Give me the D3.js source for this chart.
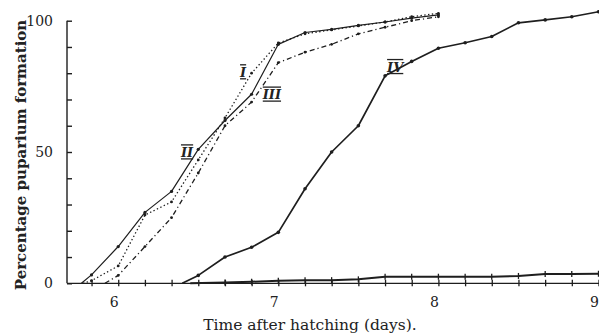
<!DOCTYPE html>
<html>
<head>
<meta charset="utf-8">
<script src="https://cdn.jsdelivr.net/npm/d3@7"></script>
<style>
  html, body { margin: 0; padding: 0; background: #fff; }
  svg { display: block; }
  text { font-family: "DejaVu Serif", "Liberation Serif", serif; fill: #222; }
</style>
</head>
<body>
<svg id="chart" width="599" height="334"></svg>
<script>
// ---- data (days after hatching, percentage puparium formation) ----
const daysI   = [5.78, 5.833, 6.0, 6.167, 6.333, 6.5, 6.667, 6.833, 7.0, 7.167, 7.333, 7.5, 7.667, 7.833, 8.0];
const pctI    = [0, 1, 6.6, 26, 31, 47, 63, 80, 91.5, 95, 96.5, 98, 99.5, 101.5, 102.8];

const daysII  = [5.77, 5.833, 6.0, 6.167, 6.333, 6.5, 6.667, 6.833, 7.0, 7.167, 7.333, 7.5, 7.667, 7.833, 8.0];
const pctII   = [0, 3.2, 14, 27, 35, 51, 62, 72, 91, 95.5, 96.7, 98.2, 99.5, 101, 102.2];

const daysIII = [5.917, 6.0, 6.167, 6.333, 6.5, 6.667, 6.833, 7.0, 7.167, 7.333, 7.5, 7.667, 7.833, 8.0];
const pctIII  = [0, 3, 14, 25, 42, 60, 69, 84, 88, 91, 95, 97.5, 100, 101.5];

const daysIV  = [6.4, 6.5, 6.667, 6.833, 7.0, 7.167, 7.333, 7.5, 7.667, 7.833, 8.0, 8.167, 8.333, 8.5, 8.667, 8.833, 9.0];
const pctIV   = [0, 3, 10, 13.7, 19.4, 36, 50, 60, 79, 84.5, 89.5, 91.6, 94, 99.2, 100.3, 101.5, 103.4];

const daysV   = [6.45, 6.667, 6.833, 7.0, 7.167, 7.333, 7.5, 7.667, 7.833, 8.0, 8.167, 8.333, 8.5, 8.667, 8.833, 9.0];
const pctV    = [0, 0.3, 0.6, 1, 1.2, 1.2, 1.5, 2.5, 2.5, 2.5, 2.5, 2.5, 2.8, 3.5, 3.5, 3.6];

const xTickLabels = [6, 7, 8, 9];
const yTickLabels = [0, 50, 100];
const curveLabels = ["I", "II", "III", "IV"];
const xTitle = "Time after hatching (days).";
const yTitle = "Percentage puparium formation";

// ---- layout ----
const svg = d3.select("#chart");
const x = d3.scaleLinear().domain([5.68, 9.0]).range([67, 598.5]);
const y = d3.scaleLinear().domain([0, 100]).range([283.3, 20.7]);
const ink = "#1e1e1e";

// y axis
const yAxis = d3.axisRight(y)
  .tickValues(d3.range(0, 101, 10))
  .tickSize(5)
  .tickFormat("");
const gy = svg.append("g").attr("transform", `translate(${x(5.68)},0)`).call(yAxis);
gy.selectAll("path,line").attr("stroke", ink).attr("stroke-width", 1.4);
gy.select("path.domain").attr("d", `M0,${y(0)}V${y(100)}`);

svg.append("g").selectAll("text").data(yTickLabels).join("text")
  .attr("x", 53).attr("y", d => y(d)).attr("dy", "0.36em")
  .attr("text-anchor", "end").attr("font-size", 14).text(d => d);

// x axis
const xTicks = d3.range(0, 20).map(i => 5 + 5 / 6 + i / 6);
const xAxis = d3.axisBottom(x).tickValues(xTicks).tickSize(3).tickFormat("");
const gx = svg.append("g").attr("transform", `translate(0,${y(0)})`).call(xAxis);
gx.selectAll("path,line").attr("stroke", ink).attr("stroke-width", 1.3);
gx.select("path.domain").attr("d", `M${x(5.68)},0H599`);
gx.selectAll(".tick line").attr("y1", -3.5).attr("y2", 3);

svg.append("g").selectAll("text").data(xTickLabels).join("text")
  .attr("x", d => x(d) - 4).attr("y", 307)
  .attr("text-anchor", "middle").attr("font-size", 14).text(d => d);

// titles
svg.append("text").attr("x", 310).attr("y", 330)
  .attr("text-anchor", "middle").attr("font-size", 15.5).text(xTitle);
svg.append("text").attr("transform", `translate(26,155) rotate(-90)`)
  .attr("text-anchor", "middle").attr("font-size", 15).attr("font-weight", "bold")
  .text(yTitle);

// curves
const line = d3.line().x(d => x(d[0])).y(d => y(d[1]));
const series = [
  { days: daysI,   pct: pctI,   w: 1.3, dash: "1.4,2.4", r: 1.4 },
  { days: daysII,  pct: pctII,  w: 1.2, dash: null,      r: 1.6 },
  { days: daysIII, pct: pctIII, w: 1.3, dash: "5,3,1.2,3", r: 1.4 },
  { days: daysIV,  pct: pctIV,  w: 1.7, dash: null,      r: 1.8 },
  { days: daysV,   pct: pctV,   w: 2.0, dash: null,      r: 0 }
];
series.forEach(s => {
  const pts = s.days.map((d, i) => [d, s.pct[i]]);
  svg.append("path").attr("d", line(pts))
    .attr("fill", "none").attr("stroke", ink).attr("stroke-width", s.w)
    .attr("stroke-linejoin", "round")
    .attr("stroke-dasharray", s.dash);
  if (s.r > 0) {
    svg.append("g").selectAll("circle").data(pts.slice(1)).join("circle")
      .attr("cx", d => x(d[0])).attr("cy", d => y(d[1])).attr("r", s.r).attr("fill", ink);
  } else {
    svg.append("g").selectAll("line").data(pts.slice(1)).join("line")
      .attr("x1", d => x(d[0])).attr("x2", d => x(d[0]))
      .attr("y1", d => y(d[1]) - 3).attr("y2", d => y(d[1]) + 3)
      .attr("stroke", ink).attr("stroke-width", 1.3);
  }
});

// curve labels (positioned by data coordinates)
const labelPos = [[6.78, 78.5], [6.43, 48], [6.96, 70], [7.73, 80.5]];
svg.append("g").selectAll("text").data(curveLabels).join("text")
  .attr("x", (d, i) => x(labelPos[i][0])).attr("y", (d, i) => y(labelPos[i][1]))
  .attr("text-anchor", "middle").attr("font-size", 13).attr("font-weight", "bold")
  .attr("font-style", "italic")
  .attr("text-decoration", "underline overline")
  .text(d => d);
</script>
</body>
</html>
